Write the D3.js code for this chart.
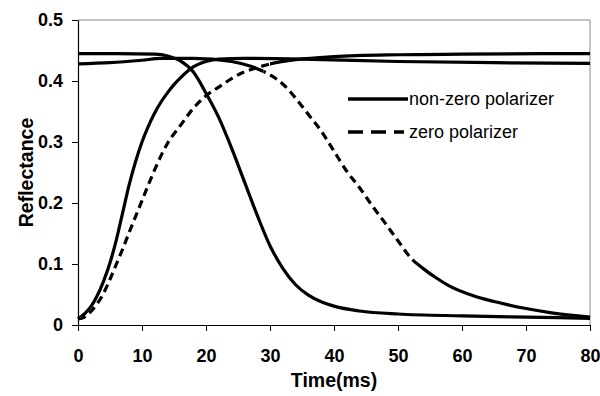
<!DOCTYPE html>
<html>
<head>
<meta charset="utf-8">
<script src="https://cdn.jsdelivr.net/npm/d3@7"></script>
<style>
  body { margin: 0; background: #fff; }
  .tick text { font-family: "Liberation Sans", Arial, sans-serif; font-weight: bold; font-size: 18px; fill: #000; }
  .axis-label { font-family: "Liberation Sans", Arial, sans-serif; font-weight: bold; font-size: 19.5px; }
  .legend-text { font-family: "Liberation Sans", Arial, sans-serif; font-size: 18px; }
</style>
</head>
<body>
<div id="chart"></div>
<script>
// chart data
const xTicks = [0, 10, 20, 30, 40, 50, 60, 70, 80];
const yTicks = [0, 0.1, 0.2, 0.3, 0.4, 0.5];
const yTickLabels = ['0', '0.1', '0.2', '0.3', '0.4', '0.5'];

// non-zero polarizer, rising
const nzRiseT = [0, 1, 2, 3, 4, 5, 6, 7, 8, 9, 10, 11, 12, 13, 14, 15, 16, 18, 20, 22, 26, 35, 50, 65, 80];
const nzRiseV = [0.01, 0.018, 0.03, 0.048, 0.072, 0.102, 0.14, 0.185, 0.23, 0.268, 0.3, 0.326, 0.348, 0.366, 0.381, 0.394, 0.405, 0.423, 0.432, 0.436, 0.437, 0.436, 0.432, 0.43, 0.429];
// non-zero polarizer, falling
const nzFallT = [0, 6, 12, 14, 16, 18, 20, 22, 24, 26, 28, 30, 32, 34, 36, 38, 40, 44, 50, 60, 70, 80];
const nzFallV = [0.445, 0.445, 0.444, 0.441, 0.433, 0.415, 0.38, 0.34, 0.29, 0.235, 0.18, 0.13, 0.093, 0.066, 0.049, 0.038, 0.031, 0.023, 0.018, 0.015, 0.013, 0.011];
// zero polarizer, rising
const zRiseT = [0, 1, 2, 3, 4, 5, 6, 7, 8, 9, 10, 11, 12, 13, 14, 16, 18, 20, 22, 24, 26, 28, 30, 34, 40, 50, 60, 80];
const zRiseV = [0.01, 0.013, 0.022, 0.035, 0.052, 0.075, 0.1, 0.125, 0.152, 0.178, 0.204, 0.23, 0.255, 0.278, 0.298, 0.327, 0.355, 0.376, 0.39, 0.404, 0.415, 0.422, 0.428, 0.435, 0.44, 0.443, 0.444, 0.445];
// zero polarizer, falling
const zFallT = [0, 5, 10, 13, 18, 24, 27, 30, 32, 34, 36, 38, 40, 42, 44, 46, 48, 50, 52, 54, 56, 58, 62, 66, 70, 74, 80];
const zFallV = [0.428, 0.43, 0.434, 0.437, 0.437, 0.432, 0.424, 0.41, 0.395, 0.372, 0.345, 0.318, 0.285, 0.252, 0.225, 0.195, 0.167, 0.138, 0.11, 0.092, 0.077, 0.064, 0.047, 0.036, 0.027, 0.02, 0.013];

// time ranges where the zero-polarizer traces show their dashes
const zRiseDashed = [0, 30];
const zFallDashed = [29, 53];

const seriesNames = ['non-zero polarizer', 'zero polarizer'];

const width = 600, height = 396;
const margin = {top: 20, right: 10, bottom: 71, left: 78};
const w = width - margin.left - margin.right,
      h = height - margin.top - margin.bottom;

const xScale = d3.scaleLinear().domain([0, 80]).range([0, w]);
const yScale = d3.scaleLinear().domain([0, 0.5]).range([h, 0]);

const svgRoot = d3.select('#chart').append('svg')
    .attr('width', width)
    .attr('height', height);
const svg = svgRoot.append('g')
    .attr('transform', `translate(${margin.left},${margin.top})`);

// gray frame on top and right
svg.append('line').attr('x1', 0).attr('x2', w).attr('y1', 0).attr('y2', 0)
  .attr('stroke', '#888').attr('stroke-width', 1);
svg.append('line').attr('x1', w).attr('x2', w).attr('y1', 0).attr('y2', h)
  .attr('stroke', '#888').attr('stroke-width', 1);

// axes
const xAxis = svg.append('g')
  .attr('transform', `translate(0,${h})`)
  .call(d3.axisBottom(xScale).tickValues(xTicks).tickSize(6).tickPadding(18).tickSizeOuter(0));
const yAxis = svg.append('g')
  .call(d3.axisLeft(yScale).tickValues(yTicks).tickSize(6).tickPadding(9).tickSizeOuter(0)
    .tickFormat((d, i) => yTickLabels[i]));
[xAxis, yAxis].forEach(a => {
  a.select('.domain').attr('stroke', '#000').attr('stroke-width', 1.2);
  a.selectAll('.tick line').attr('stroke', '#000');
});

// axis labels
svg.append('text')
  .attr('class', 'axis-label')
  .attr('text-anchor', 'middle')
  .attr('transform', `translate(${w / 2},${h + 62})`)
  .text('Time(ms)');
svg.append('text')
  .attr('class', 'axis-label')
  .attr('text-anchor', 'middle')
  .attr('transform', `translate(${-45},${h / 2}) rotate(-90)`)
  .text('Reflectance');

// clip paths: inside / outside a time range
const defs = svgRoot.append('defs');
function addClip(id, rng, inside) {
  const cp = defs.append('clipPath').attr('id', id);
  const x0 = xScale(rng[0]), x1 = xScale(rng[1]);
  if (inside) {
    cp.append('rect').attr('x', x0).attr('y', -10).attr('width', x1 - x0).attr('height', h + 20);
  } else {
    cp.append('rect').attr('x', -10).attr('y', -10).attr('width', x0 + 10).attr('height', h + 20);
    cp.append('rect').attr('x', x1).attr('y', -10).attr('width', w - x1 + 10).attr('height', h + 20);
  }
}
addClip('zr-in', zRiseDashed, true);
addClip('zr-out', zRiseDashed, false);
addClip('zf-in', zFallDashed, true);
addClip('zf-out', zFallDashed, false);

// lines
const line = d3.line()
  .x(d => xScale(d[0]))
  .y(d => yScale(d[1]))
  .curve(d3.curveMonotoneX);

function drawCurve(t, v, dash, clip) {
  const p = svg.append('path')
    .datum(t.map((tt, i) => [tt, v[i]]))
    .attr('fill', 'none')
    .attr('stroke', '#000')
    .attr('stroke-width', 3.2)
    .attr('stroke-dasharray', dash)
    .attr('d', line);
  if (clip) p.attr('clip-path', `url(#${clip})`);
}

drawCurve(nzRiseT, nzRiseV, null, null);
drawCurve(nzFallT, nzFallV, null, null);
drawCurve(zRiseT, zRiseV, '8,5', 'zr-in');
drawCurve(zRiseT, zRiseV, null, 'zr-out');
drawCurve(zFallT, zFallV, '8,5', 'zf-in');
drawCurve(zFallT, zFallV, null, 'zf-out');

// legend
const legend = svg.append('g').attr('transform', `translate(${348 - margin.left},${99 - margin.top})`);
seriesNames.forEach((name, i) => {
  const g = legend.append('g').attr('transform', `translate(0,${i * 33})`);
  g.append('line').attr('x1', 0).attr('x2', i === 0 ? 60 : 56).attr('y1', 0).attr('y2', 0)
    .attr('stroke', '#000').attr('stroke-width', 3.5)
    .attr('stroke-dasharray', i === 0 ? null : '15,8');
  g.append('text').attr('class', 'legend-text')
    .attr('x', 61).attr('y', 0).attr('dy', '0.35em')
    .text(name);
});
</script>
</body>
</html>
